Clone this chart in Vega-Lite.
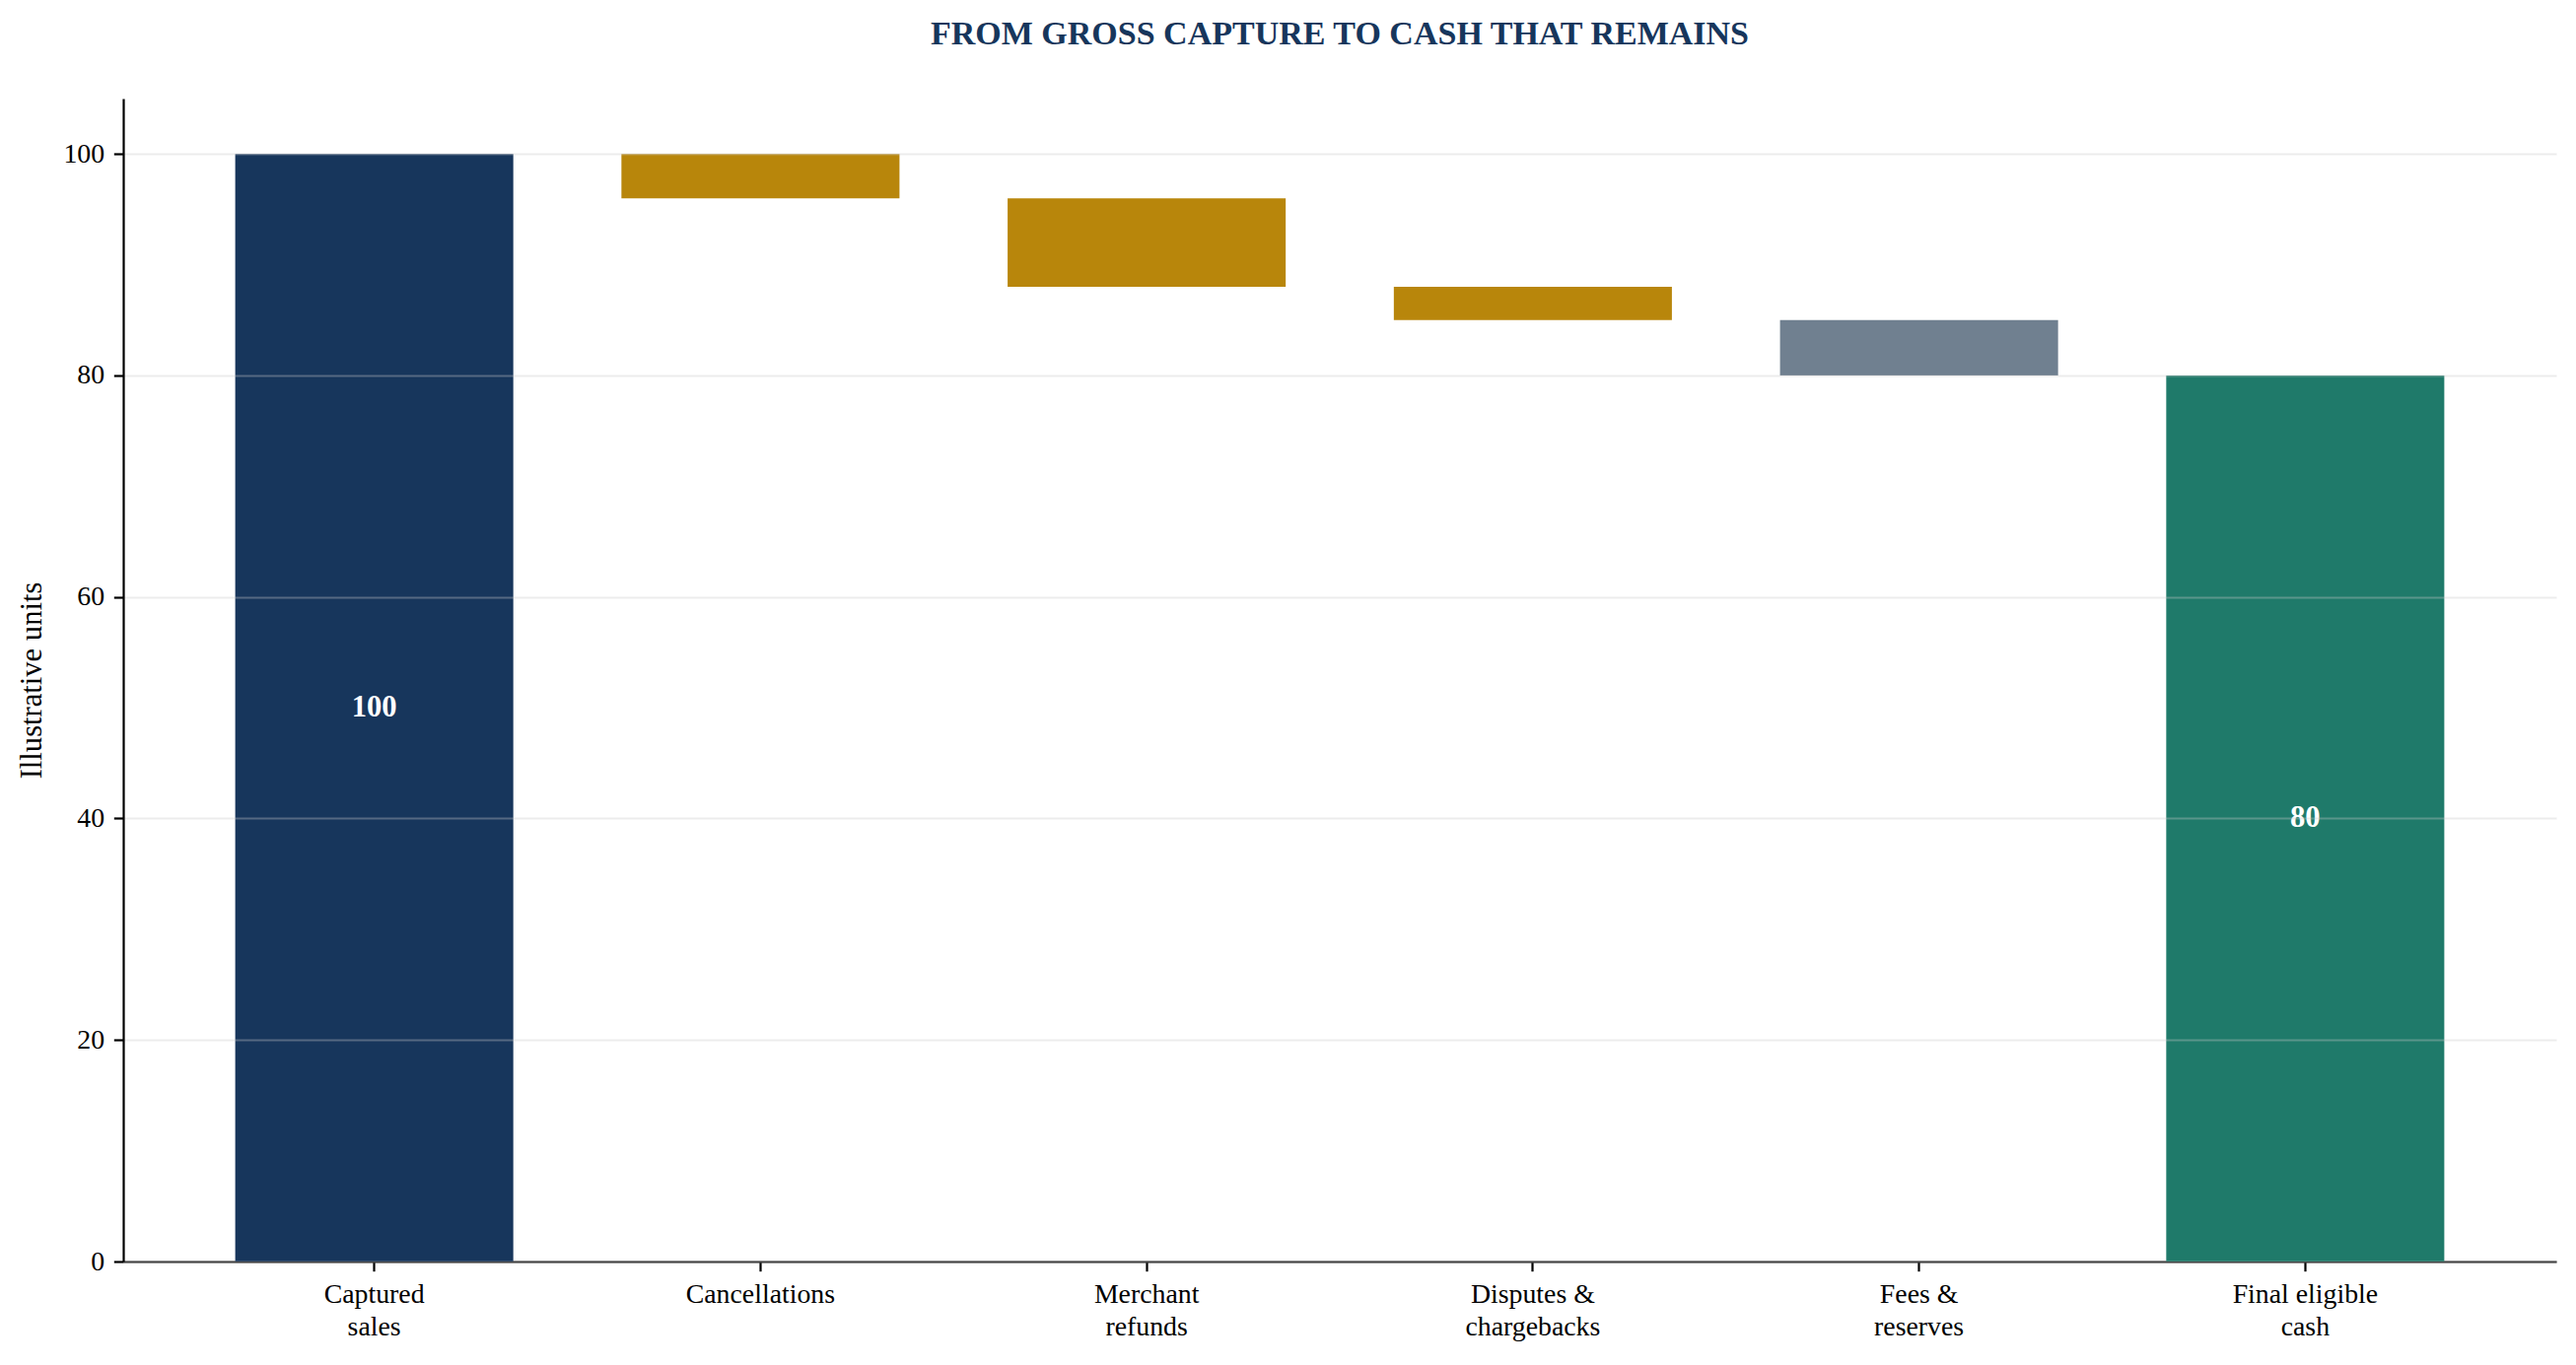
{
  "$schema": "https://vega.github.io/schema/vega-lite/v6.json",
  "autosize": "none",
  "width": 2468,
  "height": 1180,
  "padding": {"left": 125, "top": 100, "right": 20, "bottom": 105},
  "background": "white",
  "config": {
    "font": "Liberation Serif",
    "view": {"stroke": null},
    "axis": {
      "labelFont": "Liberation Serif",
      "titleFont": "Liberation Serif",
      "labelColor": "black",
      "titleColor": "black",
      "labelFontSize": 27.8,
      "domainColor": "black",
      "domainWidth": 2.2,
      "tickColor": "black",
      "tickWidth": 2.2,
      "tickSize": 9.7,
      "labelPadding": 9.7
    }
  },
  "title": {
    "text": "FROM GROSS CAPTURE TO CASH THAT REMAINS",
    "anchor": "middle",
    "frame": "group",
    "font": "Liberation Serif",
    "fontSize": 34,
    "fontWeight": "bold",
    "color": "#17365c",
    "offset": 48
  },
  "data": {
    "values": [
      {"step": "Captured\nsales", "start": 0, "end": 100, "kind": "gross"},
      {"step": "Cancellations", "start": 100, "end": 96, "kind": "loss"},
      {"step": "Merchant\nrefunds", "start": 96, "end": 88, "kind": "loss"},
      {"step": "Disputes &\nchargebacks", "start": 88, "end": 85, "kind": "loss"},
      {"step": "Fees &\nreserves", "start": 85, "end": 80, "kind": "fee"},
      {"step": "Final eligible\ncash", "start": 0, "end": 80, "kind": "net"}
    ]
  },
  "encoding": {
    "x": {
      "field": "step",
      "type": "nominal",
      "sort": null,
      "title": null,
      "scale": {"paddingInner": 0.28, "paddingOuter": 0.29},
      "axis": {
        "labelAngle": 0,
        "labelBaseline": "top",
        "labelLineHeight": 33,
        "labelLimit": 0,
        "labelExpr": "split(datum.label, '\\n')",
        "grid": false
      }
    }
  },
  "layer": [
    {
      "mark": {"type": "bar"},
      "encoding": {
        "y": {
          "field": "start",
          "type": "quantitative",
          "title": "Illustrative units",
          "scale": {"domain": [0, 105], "nice": false},
          "axis": {
            "values": [0, 20, 40, 60, 80, 100],
            "titleFontSize": 30.6,
            "titleFontWeight": "normal",
            "titlePadding": 16,
            "grid": true,
            "gridColor": "#c8c8c8",
            "gridOpacity": 0.35,
            "gridWidth": 2,
            "zindex": 1
          }
        },
        "y2": {"field": "end"},
        "color": {
          "field": "kind",
          "type": "nominal",
          "legend": null,
          "scale": {
            "domain": ["gross", "loss", "fee", "net"],
            "range": ["#17365c", "#b8860b", "#708090", "#1f7a6a"]
          }
        }
      }
    },
    {
      "transform": [
        {"filter": "datum.kind == 'gross' || datum.kind == 'net'"},
        {"fold": ["start", "end"], "as": ["edge", "value"]}
      ],
      "mark": {
        "type": "text",
        "color": "white",
        "fontSize": 30.6,
        "fontWeight": "bold",
        "font": "Liberation Serif",
        "baseline": "middle",
        "align": "center"
      },
      "encoding": {
        "y": {"field": "value", "aggregate": "mean", "type": "quantitative", "title": "Illustrative units"},
        "text": {"field": "value", "aggregate": "max", "type": "quantitative"}
      }
    }
  ]
}
